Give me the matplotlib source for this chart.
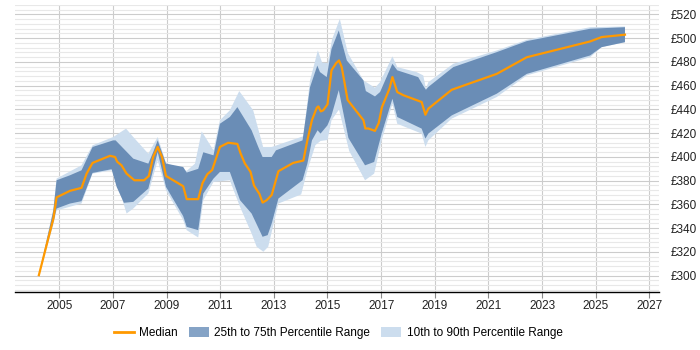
import numpy as np
import matplotlib
matplotlib.use("Agg")
import matplotlib.pyplot as plt
from matplotlib.patches import Patch
from matplotlib.lines import Line2D
from matplotlib.ticker import MultipleLocator, FuncFormatter

plt.rcParams['font.family'] = ['Liberation Sans', 'DejaVu Sans']

# Median
med_x = [2004.24, 2004.78, 2004.9, 2005.4, 2005.83, 2006.02, 2006.24, 2006.89, 2007.08, 2007.16,
         2007.32, 2007.51, 2007.8, 2008.16, 2008.34, 2008.5, 2008.67, 2008.83, 2008.98, 2009.62,
         2009.75, 2010.18, 2010.34, 2010.52, 2010.7, 2010.99, 2011.3, 2011.64, 2011.76, 2011.92,
         2012.13, 2012.26, 2012.46, 2012.58, 2012.73, 2012.92, 2013.17, 2013.72, 2014.1, 2014.25,
         2014.42, 2014.6, 2014.66, 2014.75, 2014.84, 2015.0, 2015.15, 2015.32, 2015.43, 2015.53,
         2015.62, 2015.75, 2016.34, 2016.41, 2016.52, 2016.77, 2016.91, 2017.03, 2017.31, 2017.42,
         2017.6, 2017.83, 2018.51, 2018.65, 2018.76, 2019.63, 2021.31, 2022.43, 2024.79, 2025.22,
         2026.09]
med_y = [300.5, 348, 366, 371.5, 374, 386, 395, 401, 400, 396,
         393, 386, 380.4, 380.4, 384, 400, 408.5, 400, 384, 375.4,
         364.5, 364.5, 378, 385.5, 389, 408.5, 412, 411, 403, 394.5,
         387.5, 376, 369, 361.6, 363.6, 368, 388, 395, 397, 414,
         431, 441.5, 442.6, 438.4, 439.3, 444.3, 473, 479, 481.3, 475.7,
         464.5, 448, 431, 424, 424, 422, 428.6, 442, 457.5, 467.3,
         454.7, 452, 446.3, 435.6, 440.7, 456.6, 470, 484, 497.3, 501,
         503]

# 25th to 75th percentile range
p75_x = [2004.24, 2004.78, 2004.9, 2005.4, 2005.83, 2006.24, 2007.01, 2007.1, 2007.76, 2008.32,
         2008.5, 2008.67, 2008.98, 2009.62, 2009.75, 2010.18, 2010.37, 2010.75, 2010.99, 2011.36,
         2011.64, 2012.17, 2012.42, 2012.58, 2012.92, 2013.08, 2014.07, 2014.35, 2014.62, 2014.72,
         2014.97, 2015.15, 2015.42, 2015.72, 2016.34, 2016.43, 2016.77, 2016.96, 2017.42, 2017.6,
         2018.38, 2018.57, 2018.67, 2018.76, 2019.69, 2021.31, 2022.43, 2024.79, 2026.09]
p75_y = [300.5, 355, 380.4, 384.6, 388.8, 408.4, 414, 414, 398.6, 394.4,
         404, 414, 394.4, 391.6, 386.9, 390, 404, 401.4, 428, 433.7,
         442, 422.5, 408.4, 400, 400, 405.6, 414, 458.9, 477, 471.5,
         467.3, 491, 506.5, 481.3, 464.5, 455.5, 451, 454.7, 478.5, 473,
         467.3, 460, 456.6, 459, 475.7, 488.3, 497.6, 508, 509.3]
p25_x = [2004.24, 2004.78, 2004.9, 2005.4, 2005.83, 2006.24, 2006.95, 2007.14, 2007.41, 2007.76,
         2008.32, 2008.67, 2008.98, 2009.62, 2009.75, 2010.18, 2010.37, 2010.75, 2010.99, 2011.36,
         2011.74, 2012.17, 2012.58, 2012.77, 2012.92, 2013.17, 2014.07, 2014.25, 2014.42, 2014.63,
         2014.74, 2015.0, 2015.15, 2015.42, 2015.78, 2016.4, 2016.74, 2017.02, 2017.42, 2017.6,
         2018.51, 2018.65, 2018.76, 2019.63, 2021.31, 2022.43, 2024.79, 2025.22, 2026.09]
p25_y = [300.5, 345.4, 356.6, 360.8, 362.8, 386.6, 389.7, 374.8, 361.4, 362.2,
         373.4, 404.2, 374.8, 350.2, 341.2, 338.4, 369.2, 381.8, 387.4, 387.4,
         363.6, 352.4, 332.8, 334.2, 344, 365, 380.4, 394.4, 414, 422.5,
         419.7, 426.7, 435, 456.3, 416, 393, 395.8, 419.7, 449, 433.7,
         423.9, 415.5, 419.7, 435, 453.3, 470, 485.5, 492.5, 496.7]

# 10th to 90th percentile range
p90_x = [2004.24, 2004.78, 2004.9, 2005.83, 2006.24, 2007.01, 2007.49, 2007.76, 2008.32, 2008.67,
         2008.98, 2009.75, 2010.06, 2010.31, 2010.75, 2010.99, 2011.36, 2011.71, 2012.23, 2012.6,
         2012.92, 2013.1, 2014.1, 2014.35, 2014.64, 2014.8, 2015.01, 2015.17, 2015.46, 2015.76,
         2016.34, 2016.77, 2016.96, 2017.42, 2017.6, 2018.32, 2018.57, 2018.67, 2018.76, 2019.69,
         2021.31, 2022.43, 2024.79, 2026.09]
p90_y = [300.5, 356, 381.8, 393, 409.8, 416.8, 423.9, 416.8, 402.8, 416.8,
         395, 388.3, 394.4, 421.6, 405.6, 430.9, 439.3, 455.5, 439.3, 408.4,
         408.4, 409.8, 417.5, 464.5, 489.7, 479.5, 479, 499, 516.3, 487.5,
         464.5, 458.3, 463, 484.7, 475.7, 471.5, 468.7, 457.5, 463, 478.5,
         489.7, 498.7, 509.3, 509.9]
p10_x = [2004.24, 2004.78, 2004.9, 2005.83, 2006.24, 2007.01, 2007.32, 2007.51, 2007.76, 2008.32,
         2008.67, 2008.98, 2009.62, 2009.75, 2010.18, 2010.37, 2010.75, 2011.36, 2011.74, 2012.17,
         2012.36, 2012.61, 2012.79, 2013.17, 2014.02, 2014.25, 2014.55, 2014.74, 2015.0, 2015.15,
         2015.43, 2015.81, 2016.4, 2016.74, 2017.02, 2017.42, 2017.6, 2018.51, 2018.65, 2018.76,
         2019.63, 2021.31, 2022.43, 2024.79, 2025.22, 2026.09]
p10_y = [300.5, 343, 355, 360.8, 386, 389, 366.4, 352.4, 356.6, 369.2,
         397.2, 372, 346.8, 338.4, 332.2, 363.6, 379, 380.4, 358, 335.6,
         324.4, 320.2, 324.4, 360.8, 368.5, 388.8, 410, 413.5, 414.3, 430.9,
         440, 405, 380.4, 386, 414, 444.9, 428, 419.7, 408.4, 414,
         432.3, 450.5, 468.7, 484, 492.5, 496.7]

year_ticks = [2005, 2007, 2009, 2011, 2013, 2015, 2017, 2019, 2021, 2023, 2025, 2027]

fig = plt.figure(figsize=(7, 3.5), dpi=100)
ax = fig.add_axes([15 / 700, 58 / 350, (659.3 - 15) / 700, (292 - 5) / 350])

light = '#CCDDEE'
dark = '#6A8DB6'
orange = '#FF9900'

ax.fill(np.concatenate([p90_x, p10_x[::-1]]), np.concatenate([p90_y, p10_y[::-1]]),
        color=light, lw=0, zorder=2)
ax.fill(np.concatenate([p75_x, p25_x[::-1]]), np.concatenate([p75_y, p25_y[::-1]]),
        color=dark, lw=0, zorder=3)
ax.plot(med_x, med_y, color=orange, lw=1.6, zorder=4, solid_joinstyle='round')

ax.set_xlim(2003.35, 2027.37)
ax.set_ylim(286.3, 528)

ax.set_xticks(year_ticks)
ax.set_xticklabels([str(y) for y in year_ticks])
ax.yaxis.set_major_locator(MultipleLocator(20))
ax.yaxis.set_minor_locator(MultipleLocator(4))
ax.yaxis.set_major_formatter(FuncFormatter(lambda v, p: f"£{int(v)}"))
ax.yaxis.tick_right()

ax.grid(axis='y', which='major', color='#CCCCCC', lw=0.8, zorder=0)
ax.grid(axis='y', which='minor', color='#E8E8E8', lw=0.8, zorder=0)
ax.grid(axis='x', which='major', color='#CCCCCC', lw=0.8, zorder=0)
ax.set_axisbelow(True)

for s in ['top', 'right', 'left']:
    ax.spines[s].set_visible(False)
ax.spines['bottom'].set_color('#000000')
ax.spines['bottom'].set_linewidth(1)

ax.tick_params(axis='y', which='both', length=0, labelsize=8.5, pad=8, colors='#222222')
ax.tick_params(axis='x', which='major', length=4, width=0.8, color='#888888',
               labelsize=8.5, pad=2, labelcolor='#222222')

handles = [Line2D([0], [0], color=orange, lw=2),
           Patch(facecolor='#85A3C6', edgecolor='none'),
           Patch(facecolor=light, edgecolor='none')]
labels = ['Median', '25th to 75th Percentile Range', '10th to 90th Percentile Range']
fig.legend(handles, labels, loc='center', bbox_to_anchor=(0.483, 17 / 350), ncol=3,
           frameon=False, fontsize=8.5, handlelength=1.7, handleheight=1.0,
           columnspacing=0.95, handletextpad=0.45)

fig.savefig('out.png', dpi=100)
